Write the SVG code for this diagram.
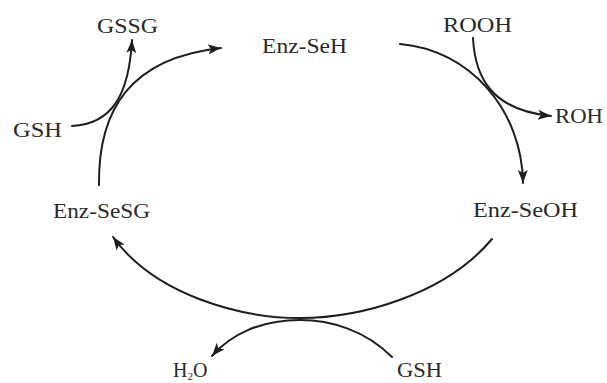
<svg xmlns="http://www.w3.org/2000/svg" width="607" height="383" viewBox="0 0 607 383">
  <style>
    .lbl { font-family: "Liberation Serif", "Times New Roman", serif; font-size: 20px; fill: #2a2a2a; }
    .sub { font-size: 11px; }
    .flow { fill: none; stroke: #1e1e1e; stroke-width: 2; stroke-linecap: round; }
  </style>
  <defs>
    <marker id="head" markerUnits="userSpaceOnUse" markerWidth="14" markerHeight="11" refX="13" refY="5" orient="auto">
      <path d="M0,0 L13,5 L0,10 L3,5 z" fill="#1e1e1e"/>
    </marker>
  </defs>

  <rect width="607" height="383" fill="#ffffff"/>

  <g id="connectors">
    <!-- Enz-SeSG to Enz-SeH, with GSH to GSSG side branch -->
    <path class="flow" d="M99,185 C98,110 130,58 221,48" marker-end="url(#head)"/>
    <path class="flow" d="M72,126 C112,124 129,95 132,40" marker-end="url(#head)"/>
    <!-- Enz-SeH to Enz-SeOH, with ROOH to ROH side branch -->
    <path class="flow" d="M400,44 C470,50 522,110 523,183" marker-end="url(#head)"/>
    <path class="flow" d="M473,38 C475,78 492,110 551,116" marker-end="url(#head)"/>
    <!-- Enz-SeOH to Enz-SeSG, with GSH to H2O side branch -->
    <path class="flow" d="M492,239 C445,295 360,318 300,318 C240,318 155,295 113,237" marker-end="url(#head)"/>
    <path class="flow" d="M392,357 C365,330 330,320 300,320 C260,320 230,335 212,356" marker-end="url(#head)"/>
  </g>

  <g id="enz-seh"><text class="lbl" x="262" y="53" textLength="85" lengthAdjust="spacingAndGlyphs">Enz-SeH</text></g>
  <g id="enz-seoh"><text class="lbl" x="473" y="217" textLength="105" lengthAdjust="spacingAndGlyphs">Enz-SeOH</text></g>
  <g id="enz-sesg"><text class="lbl" x="53" y="218" textLength="97" lengthAdjust="spacingAndGlyphs">Enz-SeSG</text></g>
  <g id="gssg"><text class="lbl" x="97" y="33" textLength="61" lengthAdjust="spacingAndGlyphs">GSSG</text></g>
  <g id="gsh-left"><text class="lbl" x="13" y="137" textLength="49" lengthAdjust="spacingAndGlyphs">GSH</text></g>
  <g id="rooh"><text class="lbl" x="443" y="32" textLength="69" lengthAdjust="spacingAndGlyphs">ROOH</text></g>
  <g id="roh"><text class="lbl" x="555" y="123" textLength="48" lengthAdjust="spacingAndGlyphs">ROH</text></g>
  <g id="gsh-bottom"><text class="lbl" x="397" y="377" textLength="45" lengthAdjust="spacingAndGlyphs">GSH</text></g>
  <g id="h2o"><text class="lbl" x="173" y="377">H<tspan class="sub" dy="3">2</tspan><tspan dy="-3">O</tspan></text></g>
</svg>
